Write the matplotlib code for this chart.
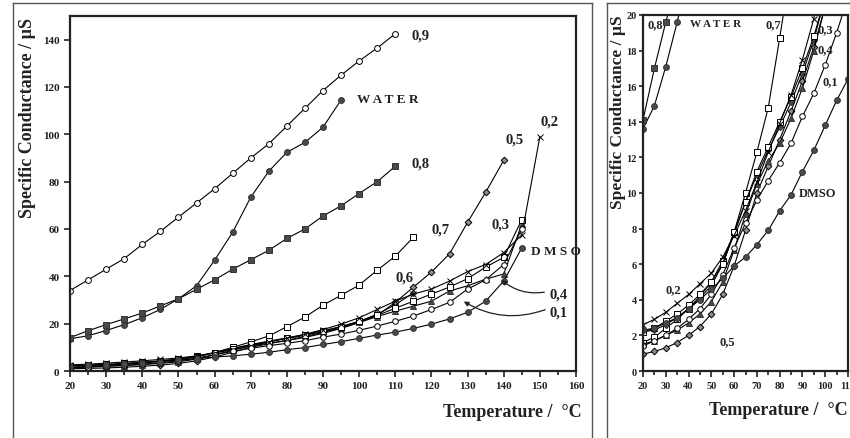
import matplotlib

matplotlib.use("Agg")
import matplotlib.pyplot as plt
from matplotlib.lines import Line2D
from matplotlib.ticker import MultipleLocator

plt.rcParams["font.family"] = ["Liberation Serif", "DejaVu Serif"]
plt.rcParams["font.weight"] = "bold"

# temperatures (deg C)
TEMP = [20, 25, 30, 35, 40, 45, 50, 55, 60, 65, 70, 75, 80,
        85, 90, 95, 100, 105, 110, 115, 120, 125, 130, 135, 140, 145]
TEMP_02 = TEMP + [150]

# specific conductance (uS) per mole fraction / solvent
x01 = [1.4, 1.7, 2.0, 2.4, 2.9, 3.5, 4.3, 5.4, 6.9, 8.3, 9.6, 10.7, 11.7,
       12.8, 14.3, 15.6, 17.2, 19.0, 21.0, 23.2, 26.0, 29.0, 34.6, 38.5, 45.0, 60.0]
x02 = [2.6, 2.9, 3.3, 3.8, 4.3, 4.9, 5.5, 6.4, 7.6, 9.0, 10.6, 12.3, 13.9,
       15.5, 17.5, 19.8, 22.5, 26.0, 29.5, 32.5, 34.6, 38.0, 42.0, 45.0, 50.0, 57.5, 99.0]
x03 = [2.2, 2.4, 2.8, 3.2, 3.7, 4.3, 5.0, 6.0, 7.8, 9.5, 11.2, 12.6, 14.0,
       15.4, 17.0, 18.8, 21.0, 23.5, 26.5, 29.5, 32.5, 35.5, 39.0, 43.9, 48.0, 64.0]
x04 = [1.5, 1.7, 2.0, 2.3, 2.7, 3.2, 3.9, 5.0, 6.8, 8.8, 10.5, 11.8, 12.8,
       14.2, 15.9, 18.0, 20.5, 23.0, 25.3, 27.4, 29.5, 33.8, 36.0, 38.8, 41.0, 62.0]
x05 = [0.95, 1.1, 1.3, 1.6, 2.0, 2.5, 3.2, 4.3, 5.9, 7.9, 10.0, 11.5, 13.0,
       14.6, 16.3, 18.2, 20.5, 23.5, 29.0, 35.4, 41.8, 49.5, 62.8, 75.5, 89.0]
x06 = [2.2, 2.3, 2.6, 3.0, 3.5, 4.1, 4.8, 6.0, 7.7, 9.5, 11.0, 12.4, 13.7,
       15.1, 16.7, 18.6, 21.0, 24.0, 28.0, 33.0]
x07 = [1.6, 1.9, 2.4, 2.9, 3.5, 4.2, 5.0, 6.2, 7.8, 10.0, 12.3, 14.8, 18.7,
       22.8, 27.8, 32.0, 36.3, 42.6, 48.5, 56.5]
x08 = [14.1, 17.0, 19.6, 22.0, 24.5, 27.5, 30.5, 34.5, 38.5, 43.0, 47.0, 51.0,
       56.0, 60.0, 65.5, 69.8, 75.0, 80.0, 86.5]
x09 = [34.0, 38.5, 43.0, 47.5, 53.5, 59.0, 65.0, 71.0, 77.0, 83.5, 90.0, 96.0,
       103.5, 111.0, 118.5, 125.0, 131.0, 136.5, 142.5]
water = [13.6, 14.9, 17.1, 19.6, 22.5, 26.0, 30.5, 36.0, 46.8, 58.6, 73.4, 84.4,
         92.4, 96.6, 103.0, 114.5]
dmso = [2.3, 2.4, 2.7, 3.0, 3.5, 4.0, 4.6, 5.2, 5.9, 6.4, 7.1, 7.9, 9.0, 9.9,
        11.2, 12.4, 13.8, 15.2, 16.4, 18.0, 19.8, 22.0, 24.8, 29.5, 38.0, 52.0]

DARK = "#4a4a4a"
GREY = "#8c8c8c"
series = [
    # values, temps, marker, face, size
    (x09, TEMP, "o", "white", 4.2),
    (water, TEMP, "o", DARK, 4.2),
    (x08, TEMP, "s", DARK, 3.8),
    (x07, TEMP, "s", "white", 4.2),
    (x06, TEMP, "D", DARK, 3.2),
    (x05, TEMP, "D", GREY, 3.4),
    (x04, TEMP, "^", DARK, 4.0),
    (x03, TEMP, "s", "white", 4.0),
    (x02, TEMP_02, "x", "black", 4.5),
    (x01, TEMP, "o", "white", 4.0),
    (dmso, TEMP, "o", DARK, 4.2),
]

W, H = 850, 439
fig = plt.figure(figsize=(8.5, 4.39), dpi=100)


def fx(px):
    return px / W


def fy(py):
    return 1 - py / H


# scanned panel frames
for seg in [((13, 13), (439, 4)), ((13, 592), (4, 4)), ((592, 592), (4, 439)),
            ((607, 607), (439, 4)), ((607, 850), (4, 4))]:
    fig.add_artist(Line2D([fx(v) for v in seg[0]], [fy(v) for v in seg[1]],
                          color="#555555", lw=1.0))

axL = fig.add_axes([fx(70), fy(372), fx(576) - fx(70), fy(17) - fy(372)])
axR = fig.add_axes([fx(643), fy(372), fx(848) - fx(643), fy(16) - fy(372)])

for ax in (axL, axR):
    for vals, temps, mk, face, ms in series:
        ax.plot(temps[:len(vals)], vals, color="black", lw=0.8, marker=mk,
                markerfacecolor=face, markeredgecolor="black" if face != DARK else "#333333",
                markeredgewidth=0.7, markersize=ms, clip_on=True)
    for s in ax.spines.values():
        s.set_linewidth(1.6)
        s.set_color("#222222")
    ax.tick_params(which="both", direction="out", width=1.2, colors="#222222",
                   labelsize=8)
    ax.tick_params(which="major", length=4)
    ax.tick_params(which="minor", length=3)
    ax.xaxis.set_major_locator(MultipleLocator(10))
    ax.xaxis.set_minor_locator(MultipleLocator(5))

axL.set_xlim(20, 160)
axL.set_ylim(0, 150)
axL.set_yticks([0, 20, 40, 60, 80, 100, 120, 140])

axR.set_xlim(20, 110)
axR.set_ylim(0, 20)
axR.yaxis.set_major_locator(MultipleLocator(2))
axR.tick_params(axis="y", length=3, pad=1.5, labelsize=7.5)
axR.tick_params(axis="x", labelsize=7.5)

# axis titles
lab_kw = dict(fontsize=13, fontweight="bold", color="#222222")
fig.text(fx(28), fy(18), "Specific Conductance / µS", rotation=90,
         ha="center", va="top", **lab_kw)
fig.text(fx(618), fy(15), "Specific Conductance / µS", rotation=90,
         ha="center", va="top", fontsize=12.5, fontweight="bold", color="#222222")
fig.text(fx(582), fy(413), "Temperature /  °C", ha="right", va="center", **lab_kw)
fig.text(fx(848), fy(411), "Temperature /  °C", ha="right", va="center", **lab_kw)

# curve labels, left panel
tk = dict(fontsize=10.5, fontweight="bold", color="#222222", va="center")
axL.text(114.4, 141.8, "0,9", **tk)
axL.text(99.4, 114.8, "W A T E R", fontsize=9.5, fontweight="bold", color="#222222",
         va="center")
axL.text(114.4, 88, "0,8", **tk)
axL.text(140.5, 98, "0,5", **tk)
axL.text(150.2, 105.5, "0,2", **tk)
axL.text(120, 60, "0,7", **tk)
axL.text(136.5, 62, "0,3", **tk)
axL.text(147.5, 50.6, "D M S O", fontsize=9.5, fontweight="bold", color="#222222",
         va="center")
axL.text(110, 39.6, "0,6", **tk)
axL.text(152.8, 32.5, "0,4", clip_on=False, **tk)
axL.text(152.8, 25, "0,1", clip_on=False, **tk)
arr = dict(arrowstyle="-|>", color="#222222", lw=0.9, mutation_scale=7)
axL.annotate("", xy=(138.9, 39.2), xytext=(152.0, 33.5),
             arrowprops=dict(connectionstyle="arc3,rad=-0.25", **arr))
axL.annotate("", xy=(128.3, 30.0), xytext=(152.2, 26.3),
             arrowprops=dict(connectionstyle="arc3,rad=-0.25", **arr))

# curve labels, right panel
rk = dict(fontsize=9, fontweight="bold", color="#222222", va="center")
axR.text(22.0, 19.5, "0,8", **rk)
axR.text(40.6, 19.5, "W A T E R", fontsize=8, fontweight="bold", color="#222222",
         va="center")
axR.text(74.0, 19.5, "0,7", **rk)
axR.text(96.8, 19.2, "0,3", **rk)
axR.text(96.8, 18.1, "0,4", **rk)
axR.text(99.0, 16.3, "0,1", **rk)
axR.text(88.4, 10.0, "DMSO", **rk)
axR.text(30.0, 4.6, "0,2", **rk)
axR.text(53.8, 1.7, "0,5", **rk)

fig.savefig("out.png", dpi=100)
